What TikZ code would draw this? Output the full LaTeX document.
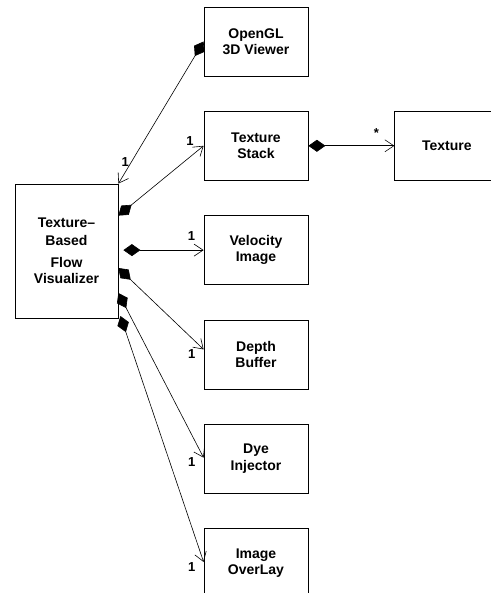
\documentclass[tikz,border=0pt]{standalone}
\usepackage{fontspec}
\setmainfont{Liberation Sans}
\usetikzlibrary{positioning, arrows.meta, calc}

\begin{document}
\begin{tikzpicture}[
    x=1pt, y=-1pt,
    node distance=34.5pt,
    cls/.style={rectangle, draw=black, line width=0.8pt, fill=white,
                minimum width=104pt, minimum height=69pt, align=center,
                inner sep=2pt, font=\fontsize{14}{16.5}\selectfont\bfseries},
    mult/.style={font=\fontsize{13}{15}\selectfont\bfseries, inner sep=0pt},
    comp/.style={line width=0.6pt,
                 {Diamond[length=17pt,width=12pt]}-{Straight Barb[length=9pt,width=12pt,line width=0.6pt]}},
    ]
    \useasboundingbox (0,0) rectangle (490,593);

    % component classes
    \node[cls] (opengl) at (256,41.5) {OpenGL\\3D Viewer};
    \node[cls, below=of opengl] (stack) {Texture\\Stack};
    \node[cls, below=of stack] (velocity) {Velocity\\Image};
    \node[cls, below=of velocity] (depth) {Depth\\Buffer};
    \node[cls, below=of depth] (dye) {Dye\\Injector};
    \node[cls, below=of dye] (overlay) {Image\\OverLay};
    \node[cls, right=86pt of stack] (texture) {Texture};

    % owner
    \node[cls, minimum width=103pt, minimum height=134pt] (flow) at (66.5,251)
    {Texture--\\[1.5pt]Based\\[5pt]Flow\\Visualizer};

    % compositions
    \draw[comp] (opengl.west) -- (flow.north east)
    node[mult, pos=0.85, left=2pt] {1};

    \draw[comp] ([yshift=-32pt]flow.north east) -- (stack.west)
    node[mult, pos=0.84, above=11pt] {1};

    \draw[comp] ([xshift=5pt]flow.east |- velocity.west) -- (velocity.west)
    node[mult, pos=0.85, above=9pt] {1};

    \draw[comp] ([yshift=-17pt]flow.east) -- ([yshift=5pt]depth.west)
    node[mult, at end, below left=0pt and 8pt] {1};

    \draw[comp] ([yshift=-42pt]flow.east) -- ([yshift=1pt]dye.west)
    node[mult, at end, below left=0pt and 8pt] {1};

    \draw[comp] ([xshift=2pt,yshift=-65pt]flow.east) -- ([yshift=1pt]overlay.west)
    node[mult, at end, below left=0pt and 8pt] {1};

    \draw[comp] (stack.east) -- (texture.west)
    node[mult, pos=0.79, above=8pt] {*};

\end{tikzpicture}
\end{document}
